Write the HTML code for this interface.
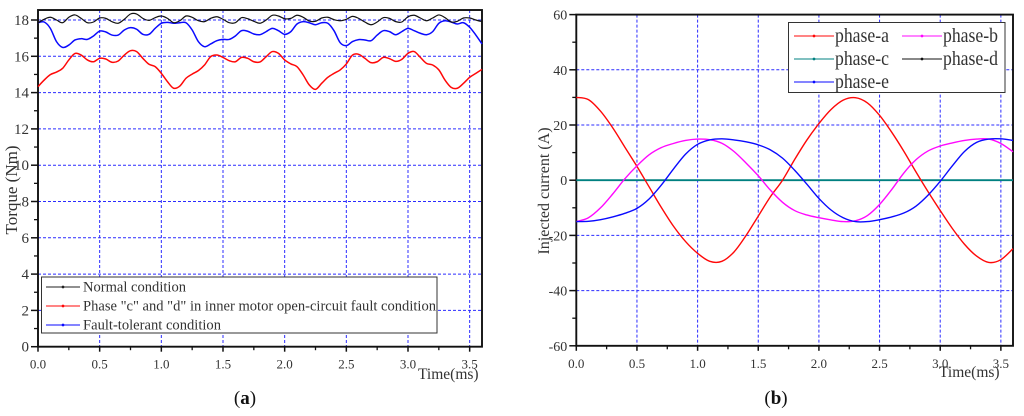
<!DOCTYPE html>
<html lang="en">
<head>
<meta charset="utf-8">
<title>Torque and injected current charts</title>
<style>
html,body{margin:0;padding:0;background:#fff;width:1024px;height:416px;overflow:hidden}
svg{display:block;font-family:"Liberation Serif",serif;fill:#333;filter:blur(0.3px)}
</style>
</head>
<body>
<svg id="figure" width="1024" height="416" viewBox="0 0 1024 416" xmlns="http://www.w3.org/2000/svg">
  <g id="chart-a"></g>
  <g id="chart-b"></g>
  <text transform="translate(17,190) rotate(-90)" text-anchor="middle" font-size="17">Torque (Nm)</text>
  <text x="418" y="379" font-size="15.5">Time(ms)</text>
  <text transform="translate(549,191) rotate(-90)" text-anchor="middle" font-size="16">Injected current (A)</text>
  <text x="939" y="377" font-size="15.5">Time(ms)</text>
  <text x="245" y="404" text-anchor="middle" font-size="19" fill="#111">(<tspan font-weight="bold">a</tspan>)</text>
  <text x="776" y="404" text-anchor="middle" font-size="19" fill="#111">(<tspan font-weight="bold">b</tspan>)</text>
</svg>
<script>
// Chart (a) data: sampled every torqueStep ms
const torqueStep = 0.05;
const torqueTicksY = [0, 2, 4, 6, 8, 10, 12, 14, 16, 18];
const timeTicks = [0, 0.5, 1, 1.5, 2, 2.5, 3, 3.5];
const normalTorque = [17.85,18.04,18.15,18,17.85,18.15,18.28,18.09,17.85,17.89,18.11,18.09,17.91,17.82,18.04,18.33,18.33,18.09,17.98,18.13,18.22,18.09,17.85,17.96,18.22,18.15,17.96,17.91,18.09,18.18,18.04,17.85,17.85,18.13,18.07,17.93,17.82,18,18.26,18.22,18.07,18.09,18.26,18.15,17.94,17.93,18.11,18.15,18.02,17.96,18.04,18.2,18.09,17.89,17.74,17.89,18.13,18.09,17.91,17.89,18.18,18.26,18.11,17.96,18.11,18.28,18.13,17.89,17.93,18.11,18.11,18,17.91];
const faultTorque = [14.33,14.69,14.99,15.13,15.34,15.8,16.16,16.07,15.8,15.7,15.89,15.85,15.67,15.74,16.07,16.31,16.26,15.89,15.56,15.43,15.06,14.6,14.24,14.36,14.79,15.02,15.21,15.52,15.98,16.07,15.94,15.76,15.7,15.94,15.89,15.7,15.69,15.98,16.26,16.16,15.8,15.58,15.43,14.97,14.42,14.18,14.51,14.84,15.06,15.25,15.58,16.07,16.11,15.89,15.65,15.7,15.94,15.87,15.72,15.83,16.16,16.26,15.94,15.61,15.52,15.25,14.69,14.29,14.24,14.51,14.84,15.06,15.28];
const tolerantTorque = [17.85,17.89,17.54,16.81,16.49,16.62,16.9,16.97,16.93,17.12,17.39,17.34,17.17,17.17,17.45,17.58,17.49,17.21,17.21,17.54,17.82,17.87,17.82,17.85,17.85,17.45,16.81,16.53,16.68,16.86,16.93,16.93,17.12,17.41,17.38,17.23,17.19,17.36,17.54,17.41,17.21,17.36,17.78,17.91,17.85,17.74,17.85,17.82,17.41,16.75,16.59,16.81,16.92,16.9,16.86,17.17,17.41,17.36,17.19,17.36,17.54,17.41,17.27,17.19,17.36,17.82,17.96,17.89,17.78,17.85,17.6,17.17,16.68];

// Chart (b) data: sampled every currentStep ms
const currentStep = 0.1;
const currentTicksY = [-60, -40, -20, 0, 20, 40, 60];
const phaseA = [30,29.2,25,19,12,5,-2.4,-9.8,-16.6,-22.2,-26.5,-29.4,-29.4,-26,-20,-13,-6,0,7.5,14.5,20.5,25.6,29,29.9,28,23.5,17.4,10.5,3,-4.2,-11,-17.5,-23.2,-27.5,-29.8,-28.8,-24.8];
const phaseB = [-15,-13.6,-10,-5,0.5,5.2,9.2,11.8,13.3,14.4,14.9,14.7,13.4,10.4,6.2,1.6,-3.6,-8,-11,-12.6,-13.6,-14.4,-15,-14.7,-12.8,-8.8,-3.4,2.6,7.4,10.6,12.4,13.5,14.4,14.9,14.9,13.3,10.3];
const phaseC = [0,0,0,0,0,0,0,0,0,0,0,0,0,0,0,0,0,0,0,0,0,0,0,0,0,0,0,0,0,0,0,0,0,0,0,0,0];
const phaseD = [0,0,0,0,0,0,0,0,0,0,0,0,0,0,0,0,0,0,0,0,0,0,0,0,0,0,0,0,0,0,0,0,0,0,0,0,0];
const phaseE = [-15,-14.9,-14.3,-13.3,-12,-10.2,-6.8,-1.8,4,9.4,13,14.6,15,14.6,13.9,12.8,11,8,3.6,-1.4,-6.6,-10.8,-13.6,-15,-15,-14.3,-13.3,-11.9,-9.4,-5.4,-0.4,5.2,10.4,13.7,14.9,15,14.4];

const NS = 'http://www.w3.org/2000/svg';
const xMax = 3.6;
function xA(t){ return 38 + t * (444 / xMax); }
function yA(v){ return 346.7 - v * 18.15; }
function xB(t){ return 576.3 + t * (436.7 / xMax); }
function yB(v){ return 180.2 - v * 2.76; }

function mk(parent, tag, attrs, text){
  const el = document.createElementNS(NS, tag);
  for (const k in attrs) el.setAttribute(k, attrs[k]);
  if (text !== undefined) el.textContent = text;
  parent.appendChild(el);
  return el;
}
function smoothPath(values, step, fx, fy){
  const p = values.map((v, i) => [fx(i * step), fy(v)]);
  let d = 'M' + p[0][0].toFixed(2) + ' ' + p[0][1].toFixed(2);
  for (let i = 0; i < p.length - 1; i++){
    const a = p[Math.max(i - 1, 0)], b = p[i], c = p[i + 1], e = p[Math.min(i + 2, p.length - 1)];
    d += 'C' + (b[0] + (c[0] - a[0]) / 6).toFixed(2) + ' ' + (b[1] + (c[1] - a[1]) / 6).toFixed(2) + ' ' +
      (c[0] - (e[0] - b[0]) / 6).toFixed(2) + ' ' + (c[1] - (e[1] - b[1]) / 6).toFixed(2) + ' ' +
      c[0].toFixed(2) + ' ' + c[1].toFixed(2);
  }
  return d;
}

function drawAxes(g, fx, fy, ticksY, yTop, yBot, prefix, fontY){
  const left = fx(0), right = fx(xMax), top = fy(yTop), bottom = fy(yBot);
  const bg = mk(g, 'g', {});
  
  
  ticksY.forEach(v => {
    if (v === yBot || v === yTop || v === 0) return;
    const ln = mk(bg, 'line', {x1:left, x2:right, y1:fy(v), y2:fy(v), stroke:'#2c2cff', 'stroke-width':1, 'stroke-dasharray':'3 2'});
    
    
  });
  timeTicks.forEach(t => {
    if (t === 0) return;
    const ln = mk(bg, 'line', {x1:fx(t), x2:fx(t), y1:top, y2:bottom, stroke:'#2c2cff', 'stroke-width':1, 'stroke-dasharray':'3 2'});
    
    
  });
  const frame = mk(g, 'rect', {x:left, y:top, width:right - left, height:bottom - top, fill:'none', stroke:'#111', 'stroke-width':1.9});
  
  
  ticksY.forEach((v, i) => {
    const y = fy(v);
    const tk = mk(g, 'line', {x1:left - 7, x2:left, y1:y, y2:y, stroke:'#111', 'stroke-width':1.5});
    
    
    const lb = mk(g, 'text', {x:left - 9, y:y + 5, 'text-anchor':'end', 'font-size':fontY}, String(v));
    
    
    if (i < ticksY.length - 1){
      const my = fy((v + ticksY[i + 1]) / 2);
      const mn = mk(g, 'line', {x1:left - 4, x2:left, y1:my, y2:my, stroke:'#111', 'stroke-width':1.3});
      
      
    }
  });
  timeTicks.forEach(t => {
    const x = fx(t);
    const tk = mk(g, 'line', {x1:x, x2:x, y1:bottom, y2:bottom + 5, stroke:'#111', 'stroke-width':1.5});
    
    
    const lb = mk(g, 'text', {x:x, y:bottom + 22, 'text-anchor':'middle', 'font-size':13}, t.toFixed(1));
    
    
    if (t + 0.25 <= xMax){
      const mx = fx(t + 0.25);
      const mn = mk(g, 'line', {x1:mx, x2:mx, y1:bottom, y2:bottom + 3.5, stroke:'#111', 'stroke-width':1.3});
      
      
    }
  });
}

const gA = document.getElementById('chart-a');
const gB = document.getElementById('chart-b');
drawAxes(gA, xA, yA, torqueTicksY, 18.55, 0, 'torque', 15);
drawAxes(gB, xB, yB, currentTicksY, 60, -60, 'current', 14);

const s1 = mk(gA, 'path', {d:smoothPath(faultTorque, torqueStep, xA, yA), fill:'none', stroke:'#ff0808', 'stroke-width':1.5});


const s2 = mk(gA, 'path', {d:smoothPath(tolerantTorque, torqueStep, xA, yA), fill:'none', stroke:'#0a0aff', 'stroke-width':1.5});


const s3 = mk(gA, 'path', {d:smoothPath(normalTorque, torqueStep, xA, yA), fill:'none', stroke:'#111', 'stroke-width':1.2});



const s4 = mk(gB, 'path', {d:smoothPath(phaseD, currentStep, xB, yB), fill:'none', stroke:'#111', 'stroke-width':1.2});


const s5 = mk(gB, 'path', {d:smoothPath(phaseC, currentStep, xB, yB), fill:'none', stroke:'#008080', 'stroke-width':1.9});


const s6 = mk(gB, 'path', {d:smoothPath(phaseA, currentStep, xB, yB), fill:'none', stroke:'#ff0808', 'stroke-width':1.4});


const s7 = mk(gB, 'path', {d:smoothPath(phaseB, currentStep, xB, yB), fill:'none', stroke:'#ff08ff', 'stroke-width':1.4});


const s8 = mk(gB, 'path', {d:smoothPath(phaseE, currentStep, xB, yB), fill:'none', stroke:'#0a0aff', 'stroke-width':1.4});



function legendEntry(g, x1, x2, y, color, label, textX, size, width, name){
  const ent = mk(g, 'g', {});
  
  
  mk(ent, 'line', {x1:x1, x2:x2, y1:y, y2:y, stroke:color, 'stroke-width':0.9});
  mk(ent, 'circle', {cx:(x1 + x2) / 2, cy:y, r:1.4, fill:color});
  mk(ent, 'text', {x:textX, y:y + size * 0.3, 'font-size':size, textLength:width, lengthAdjust:'spacingAndGlyphs'}, label);
}

const legA = mk(gA, 'g', {});


mk(legA, 'rect', {x:41.5, y:277, width:395.5, height:56, fill:'#fff', stroke:'#333', 'stroke-width':1});
legendEntry(legA, 46, 80, 287, '#222', 'Normal condition', 83, 14.6, 103, 'legend-entry-normal');
legendEntry(legA, 46, 80, 306, '#ff0808', 'Phase "c" and "d" in inner motor open-circuit fault condition', 83, 14.6, 353, 'legend-entry-fault');
legendEntry(legA, 46, 80, 325, '#0a0aff', 'Fault-tolerant condition', 83, 14.6, 138, 'legend-entry-tolerant');

const legB = mk(gB, 'g', {});


mk(legB, 'rect', {x:788.5, y:22.5, width:216.5, height:70, fill:'#fff', stroke:'#333', 'stroke-width':1});
legendEntry(legB, 794, 834, 36, '#ff0808', 'phase-a', 835, 20, 54, 'legend-entry-phase-a');
legendEntry(legB, 902, 942, 36, '#ff08ff', 'phase-b', 943, 20, 55, 'legend-entry-phase-b');
legendEntry(legB, 794, 834, 59, '#008080', 'phase-c', 835, 20, 54, 'legend-entry-phase-c');
legendEntry(legB, 902, 942, 59, '#111', 'phase-d', 943, 20, 55, 'legend-entry-phase-d');
legendEntry(legB, 794, 834, 82, '#0a0aff', 'phase-e', 835, 20, 54, 'legend-entry-phase-e');
</script>
</body>
</html>
